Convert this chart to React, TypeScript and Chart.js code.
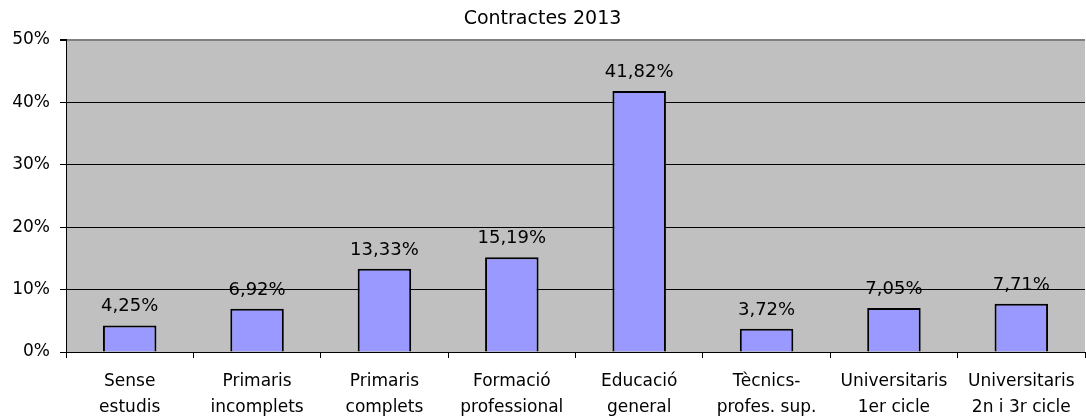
import React, { useEffect, useRef } from "react";
import { Chart, registerables } from "chart.js";

Chart.register(...registerables);

const categories: string[][] = [
  ["Sense", "estudis"],
  ["Primaris", "incomplets"],
  ["Primaris", "complets"],
  ["Formació", "professional"],
  ["Educació", "general"],
  ["Tècnics-", "profes. sup."],
  ["Universitaris", "1er cicle"],
  ["Universitaris", "2n i 3r cicle"],
];
const values: number[] = [4.25, 6.92, 13.33, 15.19, 41.82, 3.72, 7.05, 7.71];
const yTicks: number[] = [0, 10, 20, 30, 40, 50];
const titleText = "Contractes 2013";

const FONT = "'DejaVu Sans', Verdana, sans-serif";

const fmt = (v: number) => v.toFixed(2).replace(".", ",") + "%";

const bgPlugin = {
  id: "plotBg",
  beforeDraw(chart: any) {
    const { ctx, chartArea } = chart;
    ctx.save();
    ctx.fillStyle = "#C0C0C0";
    ctx.fillRect(chartArea.left, chartArea.top, chartArea.right - chartArea.left, chartArea.bottom - chartArea.top);
    ctx.restore();
  },
};

const labelPlugin = {
  id: "valueLabels",
  afterDatasetsDraw(chart: any) {
    const { ctx } = chart;
    const meta = chart.getDatasetMeta(0);
    ctx.save();
    ctx.font = `18px ${FONT}`;
    ctx.fillStyle = "#000";
    ctx.textAlign = "center";
    ctx.textBaseline = "alphabetic";
    meta.data.forEach((el: any, i: number) => {
      ctx.fillText(fmt(values[i]), el.x, el.y - 14);
    });
    ctx.restore();
  },
};

export default function App() {
  const ref = useRef<HTMLCanvasElement>(null);
  useEffect(() => {
    document.body.style.margin = "0";
    const chart = new Chart(ref.current!, {
      type: "bar",
      data: {
        labels: categories,
        datasets: [
          {
            data: values,
            backgroundColor: "#9999FF",
            borderColor: "#000000",
            borderWidth: 2,
            barPercentage: 0.42,
            categoryPercentage: 1,
          },
        ],
      },
      options: {
        animation: false,
        responsive: false,
        maintainAspectRatio: false,
        layout: { padding: { left: 0, right: 1, top: 0, bottom: 0 } },
        plugins: {
          legend: { display: false },
          tooltip: { enabled: false },
          title: {
            display: true,
            text: titleText,
            color: "#000",
            font: { family: FONT, size: 19, weight: "normal" },
            padding: { top: 8, bottom: 9 },
          },
        },
        scales: {
          x: {
            grid: {
              offset: true,
              drawOnChartArea: false,
              drawTicks: true,
              tickLength: 6,
              tickColor: "#000",
              color: "#000",
            },
            border: { display: true, color: "#000", width: 1 },
            ticks: {
              color: "#000",
              font: { family: FONT, size: 17, lineHeight: 1.5 },
              padding: 11,
              maxRotation: 0,
              autoSkip: false,
            },
            afterFit(scale: any) {
              scale.height = 64;
            },
          },
          y: {
            min: 0,
            max: 50,
            afterBuildTicks(scale: any) {
              scale.ticks = yTicks.map((v) => ({ value: v }));
            },
            grid: {
              color: (ctx: any) => (ctx.tick && ctx.tick.value === 50 ? "#808080" : "#000"),
              lineWidth: (ctx: any) => (ctx.tick && ctx.tick.value === 50 ? 2 : 1),
              tickLength: 6,
              tickColor: "#000",
              drawTicks: true,
            },
            border: { display: true, color: "#000", width: 1 },
            ticks: {
              color: "#000",
              font: { family: FONT, size: 17 },
              padding: 10,
              callback: (v: any) => v + "%",
            },
            afterFit(scale: any) {
              scale.width = 66;
            },
          },
        },
      },
      plugins: [bgPlugin, labelPlugin],
    });
    return () => chart.destroy();
  }, []);
  return (
    <div style={{ width: 1086, height: 416 }}>
      <canvas ref={ref} width={1086} height={416} style={{ display: "block" }} />
    </div>
  );
}
